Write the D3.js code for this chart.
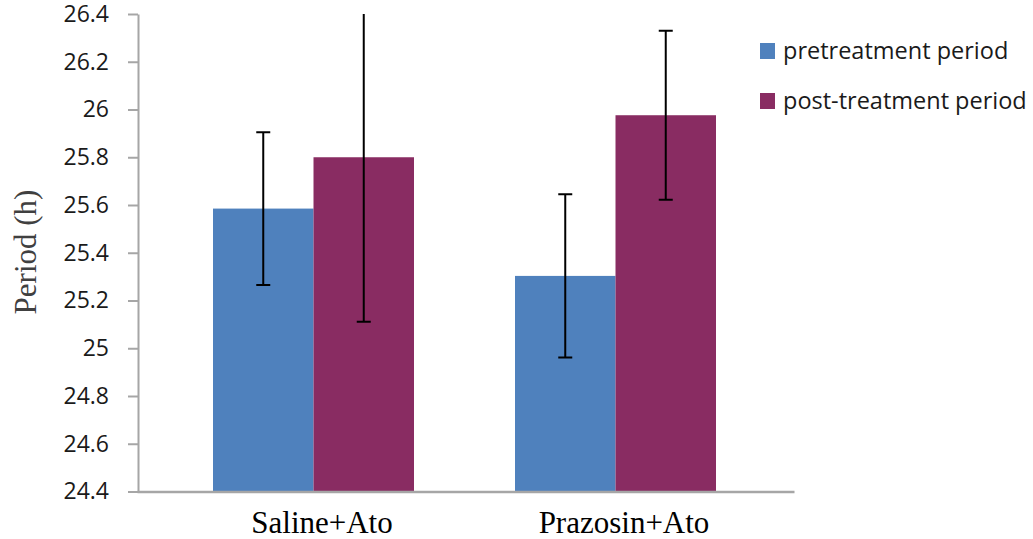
<!DOCTYPE html>
<html>
<head>
<meta charset="utf-8">
<script src="https://cdn.jsdelivr.net/npm/d3@7"></script>
<style>
  html, body { margin: 0; padding: 0; background: #ffffff; }
  svg { display: block; }
</style>
</head>
<body>
<svg id="chart" width="1033" height="539"></svg>
<script>
// ---- data ----
const categories = ["Saline+Ato", "Prazosin+Ato"];
const seriesNames = ["pretreatment period", "post-treatment period"];
const pretreatment = [25.585, 25.303];
const postTreatment = [25.800, 25.976];
const pretreatmentErr = [0.32, 0.342];
const postTreatmentErr = [0.689, 0.354];
const yTicks = [24.4, 24.6, 24.8, 25, 25.2, 25.4, 25.6, 25.8, 26, 26.2, 26.4];
const yLabel = "Period (h)";
const colors = ["#4F81BD", "#892C62"];

// ---- layout ----
const svg = d3.select("#chart");
const plotLeft = 138, plotRight = 794, plotTop = 14, plotBottom = 491.5;

const y = d3.scaleLinear().domain([24.4, 26.4]).range([plotBottom, plotTop]);
const x0 = d3.scaleBand().domain(categories).range([163, 767]).padding(0);
const x1 = d3.scaleBand().domain(seriesNames).range([50, 251]).padding(0);

const values = [pretreatment, postTreatment];
const errs = [pretreatmentErr, postTreatmentErr];
const rows = [];
categories.forEach((c, i) => {
  seriesNames.forEach((s, j) => {
    rows.push({cat: c, ser: s, v: values[j][i], e: errs[j][i], color: colors[j]});
  });
});

svg.append("defs").append("clipPath").attr("id", "plotclip")
  .append("rect").attr("x", plotLeft).attr("y", plotTop)
  .attr("width", plotRight - plotLeft).attr("height", plotBottom - plotTop);

// bars
svg.append("g").selectAll("rect").data(rows).join("rect")
  .attr("x", d => x0(d.cat) + x1(d.ser))
  .attr("y", d => y(d.v))
  .attr("width", x1.bandwidth())
  .attr("height", d => y(24.4) - y(d.v))
  .attr("fill", d => d.color);

// error bars
const eg = svg.append("g").attr("clip-path", "url(#plotclip)")
  .attr("stroke", "#000").attr("stroke-width", 2);
rows.forEach(d => {
  const cx = x0(d.cat) + x1(d.ser) + x1.bandwidth() / 2;
  eg.append("line").attr("x1", cx).attr("x2", cx)
    .attr("y1", y(d.v + d.e)).attr("y2", y(d.v - d.e));
  [d.v + d.e, d.v - d.e].forEach(t => {
    if (t <= 26.4) {
      eg.append("line").attr("x1", cx - 7).attr("x2", cx + 7)
        .attr("y1", y(t)).attr("y2", y(t));
    }
  });
});

// y axis
const yAxis = d3.axisLeft(y).tickValues(yTicks).tickSize(10).tickSizeOuter(0)
  .tickPadding(19).tickFormat(d => String(+d.toFixed(1)));
const ga = svg.append("g").attr("transform", `translate(${plotLeft},0)`).call(yAxis);
ga.select(".domain").attr("stroke", "#a6a6a6").attr("stroke-width", 2);
ga.selectAll(".tick line").attr("stroke", "#a6a6a6").attr("stroke-width", 2);
ga.selectAll(".tick text").attr("fill", "#1a1a1a")
  .style("font-family", "'Open Sans', sans-serif").style("font-size", "23px");

// x axis line
const xAxis = d3.axisBottom(d3.scaleLinear().domain([0, 1]).range([plotLeft - 1, plotRight]))
  .tickValues([]).tickSizeOuter(0);
const gx = svg.append("g").attr("transform", `translate(0,${plotBottom})`).call(xAxis);
gx.select(".domain").attr("stroke", "#a6a6a6").attr("stroke-width", 2.5);

// category labels
svg.append("g").selectAll("text").data(categories).join("text")
  .attr("x", d => x0(d) + x0.bandwidth() / 2 + 8)
  .attr("y", 533)
  .attr("text-anchor", "middle")
  .style("font-family", "'Liberation Serif', 'Times New Roman', serif")
  .style("font-size", "31px")
  .attr("fill", "#000")
  .text(d => d);

// y label
svg.append("text")
  .attr("transform", "translate(36,252) rotate(-90)")
  .attr("text-anchor", "middle")
  .style("font-family", "'Liberation Serif', 'Times New Roman', serif")
  .style("font-size", "31px")
  .attr("fill", "#404040")
  .text(yLabel);

// legend
const lg = svg.append("g").selectAll("g").data(seriesNames).join("g")
  .attr("transform", (d, i) => `translate(760,${43 + i * 50})`);
lg.append("rect").attr("width", 15).attr("height", 16).attr("fill", (d, i) => colors[i]);
lg.append("text").attr("x", 23).attr("y", 8).attr("dy", "0.35em")
  .style("font-family", "'Open Sans', sans-serif").style("font-size", "23.5px")
  .attr("fill", "#1a1a1a")
  .text(d => d);
</script>
</body>
</html>
